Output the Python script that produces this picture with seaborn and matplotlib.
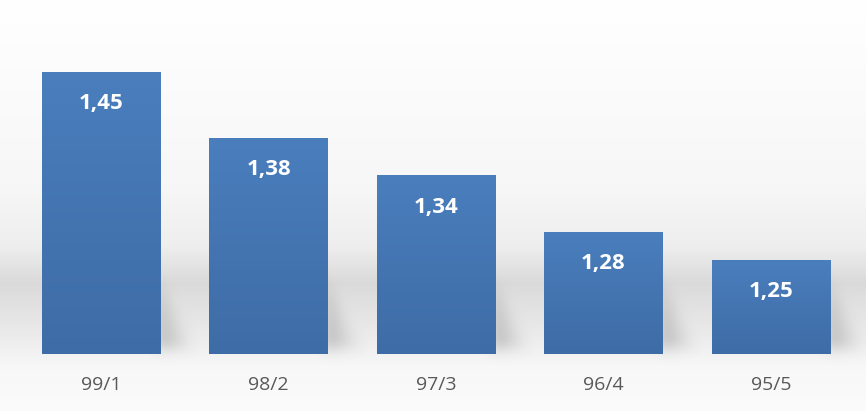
import numpy as np
import pandas as pd
import seaborn as sns
import matplotlib.pyplot as plt
from matplotlib.colors import LinearSegmentedColormap

# data
categories = ['99/1', '98/2', '97/3', '96/4', '95/5']
values = [1.45, 1.38, 1.34, 1.28, 1.25]

df = pd.DataFrame({'cat': categories, 'val': values})

sns.set_style('white')
plt.rcParams['font.family'] = ['Open Sans', 'DejaVu Sans']

W, H = 866, 411
fig = plt.figure(figsize=(W / 100, H / 100), dpi=100)

# background gradient (white -> grey band -> white)
bg = fig.add_axes([0, 0, 1, 1])
bg.set_axis_off()
stops = [(0.0, '#fbfbfb'), (0.10, '#f8f8f8'), (0.22, '#e6e6e6'), (0.31, '#dadada'),
         (0.40, '#eeeeee'), (0.55, '#f7f7f7'), (1.0, '#ffffff')]
bg_cmap = LinearSegmentedColormap.from_list('bg', stops)
grad = np.linspace(0, 1, 256).reshape(-1, 1)
bg.imshow(grad, cmap=bg_cmap, aspect='auto', extent=[0, 1, 0, 1], origin='lower')
bg.set_xlim(0, 1)
bg.set_ylim(0, 1)

ax = fig.add_axes([17.25 / W, 57 / H, 837.5 / W, 329 / H])
ax.patch.set_alpha(0)
sns.barplot(data=df, x='cat', y='val', color='#4679b8', width=0.705,
            saturation=1, ax=ax, linewidth=0)
ax.set_xlim(-0.5, 4.5)
ax.set_ylim(1.15, 1.5)


def blur(img, sigma):
    k = np.arange(-3 * sigma, 3 * sigma + 1)
    g = np.exp(-k ** 2 / (2 * sigma ** 2))
    g /= g.sum()
    img = np.apply_along_axis(lambda r: np.convolve(r, g, mode='same'), 1, img)
    img = np.apply_along_axis(lambda c: np.convolve(c, g, mode='same'), 0, img)
    return img


# soft shadow to the lower right of every bar
yy, xx = np.mgrid[0:H, 0:W]
alpha = np.zeros((H, W))
for p in ax.patches:
    (xl, yb), (xr, yt) = ax.transData.transform([(p.get_x(), 1.15),
                                                 (p.get_x() + p.get_width(), p.get_y() + p.get_height())])
    hgt = yy - yb
    span = 75.0
    t = np.clip(hgt / span, 0, 1)
    reach = 40 * (1 - t) + 1e-6
    dx = xx - xr
    a = np.clip(1 - dx / reach, 0, 1) * (dx > -4) * (hgt >= 0) * (hgt < span)
    a *= (1 - t) ** 0.5 * np.clip(hgt / 10, 0, 1)
    alpha = np.maximum(alpha, a)
alpha = blur(alpha, 6)
shadow = np.zeros((H, W, 4))
shadow[..., :3] = 0.4
shadow[..., 3] = alpha * 0.4
bg.imshow(shadow, extent=[0, 1, 0, 1], origin='lower', aspect='auto', zorder=2,
          interpolation='bilinear')

# vertical gradient on each bar
bar_cmap = LinearSegmentedColormap.from_list('bar', ['#3e6ca6', '#4a7ebd'])
for p in ax.patches:
    x0, y0 = p.get_x(), p.get_y()
    w, h = p.get_width(), p.get_height()
    im = ax.imshow(grad, cmap=bar_cmap, aspect='auto', origin='lower',
                   extent=[x0, x0 + w, 1.15, y0 + h], zorder=p.get_zorder() + 0.1)
    im.set_clip_path(p)

ax.set_xlim(-0.5, 4.5)
ax.set_ylim(1.15, 1.5)

for i, v in enumerate(values):
    ax.text(i, v - 0.034, f'{v:.2f}'.replace('.', ','), ha='center', va='center',
            color='white', fontsize=16, fontweight='bold', zorder=5)

ax.set_xlabel('')
ax.set_ylabel('')
ax.set_yticks([])
ax.tick_params(axis='x', length=0, labelsize=14, labelcolor='#595959', pad=16)
sns.despine(ax=ax, left=True, bottom=True)

fig.savefig('out.png', dpi=100)
